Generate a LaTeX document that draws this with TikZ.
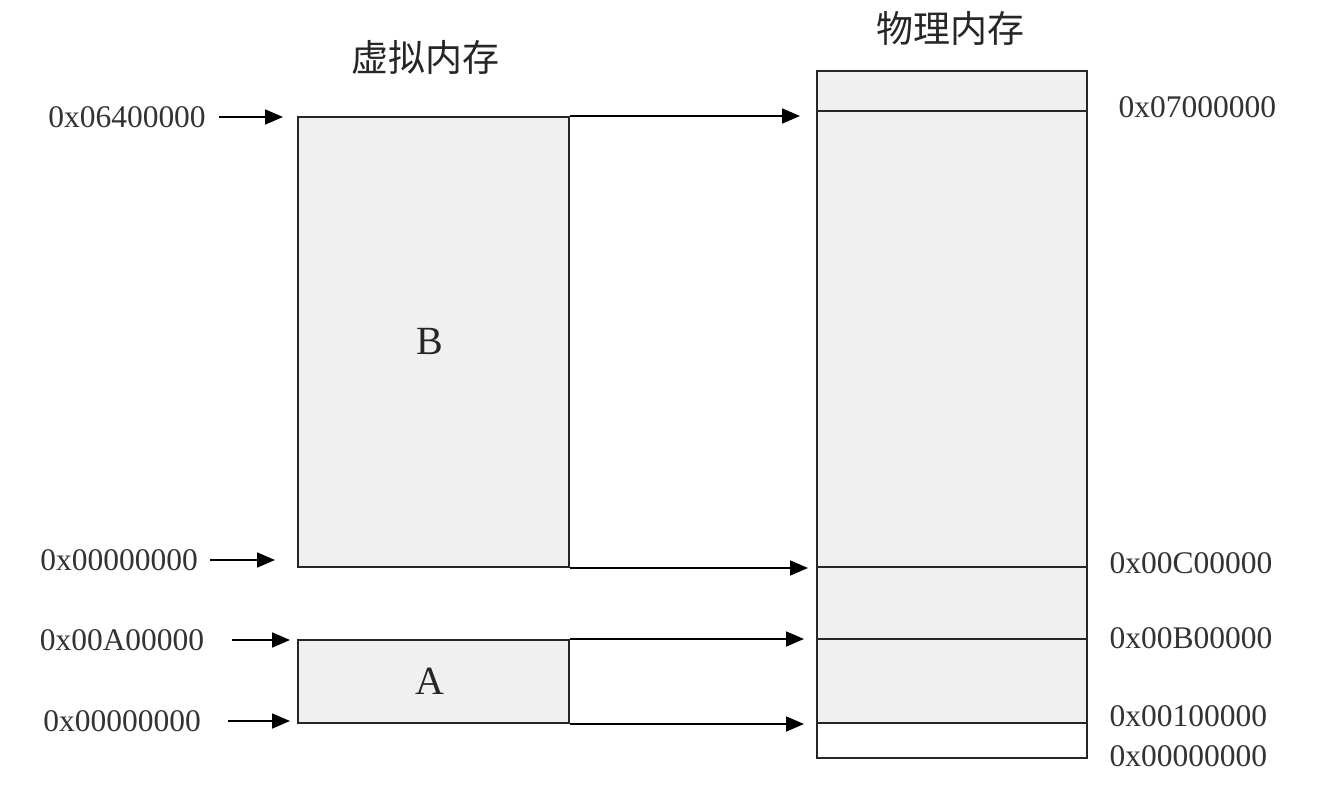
\documentclass[tikz,border=0pt]{standalone}
\usepackage{fontspec}
\setmainfont{Liberation Serif}
\newfontfamily\cjk{Noto Sans CJK SC}
\usetikzlibrary{arrows.meta}
\begin{document}
\begin{tikzpicture}[x=1pt,y=-1pt,
  mem/.style={draw=black!85, line width=2pt, fill=black!6, inner sep=0pt, anchor=north west},
  freemem/.style={mem, fill=white},
  addr/.style={font=\fontsize{31.5}{36}\selectfont, text=black!80},
  title/.style={font=\cjk\fontsize{37}{42}\selectfont, text=black!85},
  seg/.style={font=\fontsize{40}{46}\selectfont, text=black!85},
  arr/.style={-{Triangle[length=18pt,width=15pt]}, line width=1.8pt, draw=black}]
\useasboundingbox[fill=white] (0,0) rectangle (1320,810);

% titles
\node[title] (tv) at (425,57) {虚拟内存};
\node[title] (tp) at (950,28) {物理内存};

% virtual memory
\node[mem, minimum width=271pt, minimum height=450pt] (B) at (297,116) {};
\node[mem, minimum width=271pt, minimum height=83pt] (A) at (297,639) {};
\node[seg] (lb) at (430,341) {B};
\node[seg] (la) at (430,681) {A};

% physical memory
\node[mem, minimum width=270pt, minimum height=40pt] (P0) at (816,70) {};
\node[mem, minimum width=270pt, minimum height=456pt] (P1) at (816,110) {};
\node[mem, minimum width=270pt, minimum height=72pt] (P2) at (816,566) {};
\node[mem, minimum width=270pt, minimum height=84pt] (P3) at (816,638) {};
\node[freemem, minimum width=270pt, minimum height=35pt] (P4) at (816,722) {};

% left labels
\node[addr] (v1) at (127,117) {0x06400000};
\node[addr] (v2) at (119,560) {0x00000000};
\node[addr] (v3) at (122,640) {0x00A00000};
\node[addr] (v4) at (122,721) {0x00000000};

\draw[arr, shorten >=14pt] ([xshift=10pt]v1.east) -- (v1.east -| B.west);
\draw[arr, shorten >=22pt] ([xshift=9pt]v2.east) -- (v2.east -| B.west);
\draw[arr, shorten >=7pt] ([xshift=24pt]v3.east) -- (v3.east -| A.west);
\draw[arr, shorten >=7pt] ([xshift=24pt]v4.east) -- (v4.east -| A.west);

% mapping arrows
\draw[arr, shorten >=16pt] (B.north east) -- (B.north east -| P1.west);
\draw[arr, shorten >=8pt] (B.south east) -- (B.south east -| P2.west);
\draw[arr, shorten >=12pt] (A.north east) -- (A.north east -| P3.west);
\draw[arr, shorten >=12pt] (A.south east) -- (A.south east -| P4.west);

% right labels
\node[addr, anchor=west] (p1) at (1115,107) {0x07000000};
\node[addr, anchor=west] (p2) at (1106,563) {0x00C00000};
\node[addr, anchor=west] (p3) at (1106,638) {0x00B00000};
\node[addr, anchor=west] (p4) at (1106,716) {0x00100000};
\node[addr, anchor=west] (p5) at (1106,756) {0x00000000};
\end{tikzpicture}
\end{document}
